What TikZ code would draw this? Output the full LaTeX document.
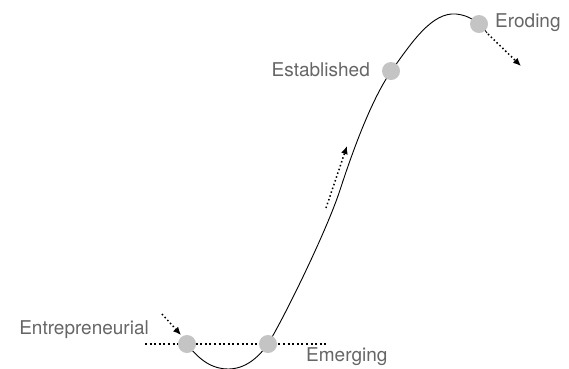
\documentclass[tikz,border=0pt]{standalone}
\usepackage{fontspec}
\setmainfont{TeX Gyre Heros}
\usetikzlibrary{arrows.meta}
\definecolor{dotgray}{HTML}{C4C4C4}
\definecolor{txtgray}{HTML}{666666}
\begin{document}
\begin{tikzpicture}[x=1pt,y=-1pt,
  stage/.style={circle,fill=dotgray,minimum size=18pt,inner sep=0pt},
  lbl/.style={text=txtgray,font=\fontsize{19}{21}\selectfont,inner sep=0pt},
  hint/.style={line width=1.5pt,dash pattern=on 1.5pt off 2.5pt,-{Latex[length=8pt,width=7pt]}}]
\useasboundingbox (0,0) rectangle (569,368);
% baseline
\coordinate (bl) at (145,344);
\coordinate (br) at (326,344);
\draw[line width=2pt,dash pattern=on 2pt off 2.6pt] (bl) -- (br);
% curve
\draw[line width=0.9pt] (187,344) .. controls (200,361) and (213,369) .. (228,369)
  .. controls (245,369) and (258,358) .. (268,344)
  .. controls (285,316) and (327,230) .. (340,190)
  .. controls (353,150) and (372,98) .. (392,70)
  .. controls (412,42) and (432,12) .. (456,14)
  .. controls (466,15) and (473,19) .. (479,24)
  .. controls (483,27) and (485,30) .. (487,33);
% stages
\node[stage] (ent) at (187,344) {};
\node[stage] (emg) at (268,344) {};
\node[stage] (est) at (391,71) {};
\node[stage] (ero) at (479,24) {};
% labels
\node[lbl,anchor=east] (tent) at (149,330) {Entrepreneurial};
\node[lbl,anchor=west] (temg) at (306,357) {Emerging};
\node[lbl,anchor=east] (test) at (370,70) {Established};
\node[lbl,anchor=west] (tero) at (495,23) {Eroding};
% hint arrows
\coordinate (a1s) at (162,314);
\coordinate (a1e) at (181,335);
\draw[hint] (a1s) -- (a1e);
\coordinate (a2s) at (326,208);
\coordinate (a2e) at (347,146);
\draw[hint] (a2s) -- (a2e);
\coordinate (a3s) at (488,34);
\coordinate (a3e) at (521,66);
\draw[hint] (a3s) -- (a3e);
\end{tikzpicture}
\end{document}
